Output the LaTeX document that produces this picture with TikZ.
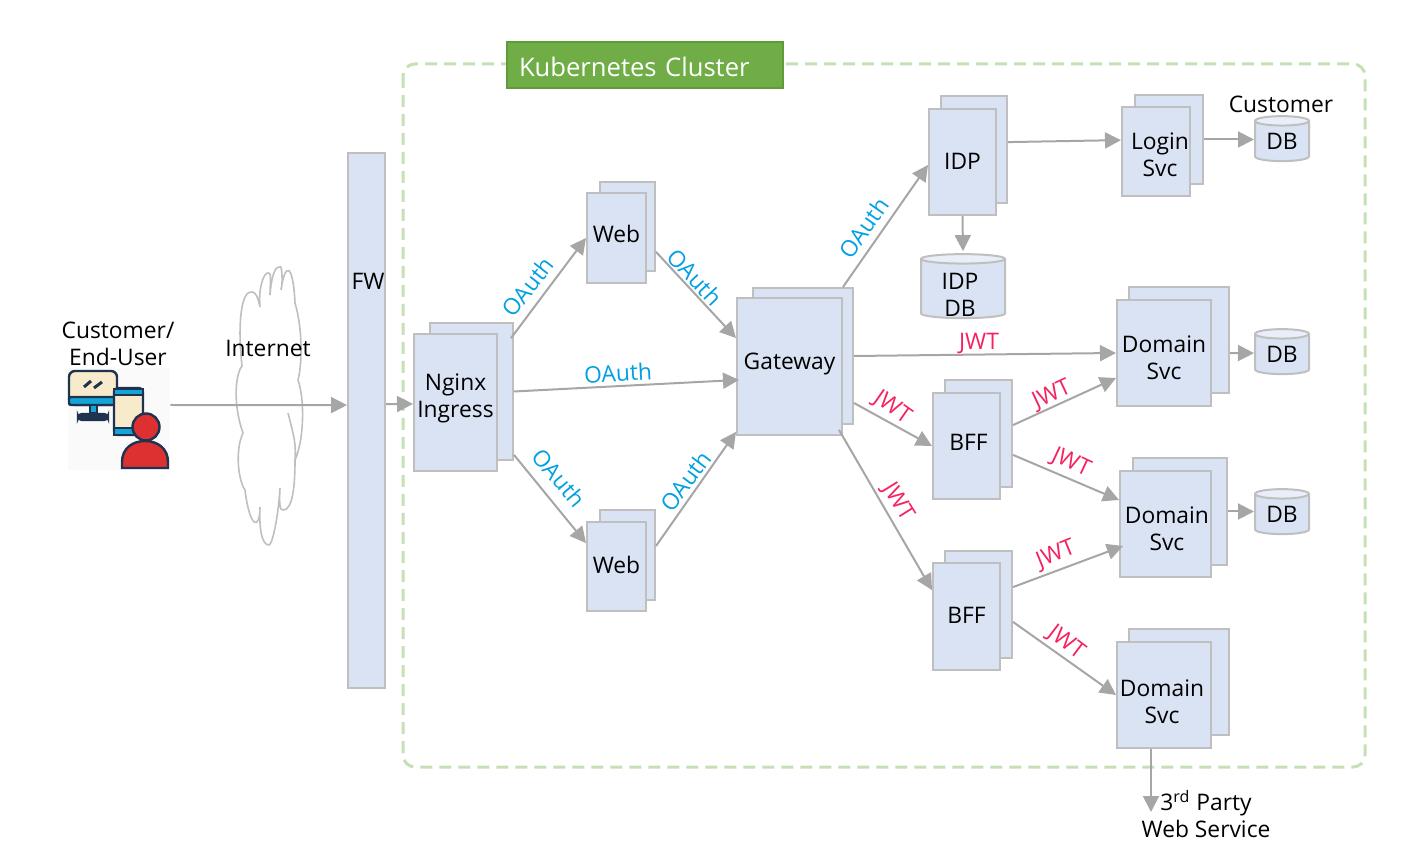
\documentclass[tikz,border=0pt]{standalone}
\usepackage{fontspec}
\setmainfont{Open Sans}
\usetikzlibrary{arrows.meta,shapes.geometric}
\definecolor{boxfill}{HTML}{DAE3F3}
\definecolor{boxline}{HTML}{BFBFBF}
\definecolor{arrowgray}{HTML}{A6A6A6}
\definecolor{clusterline}{HTML}{C5E0B4}
\definecolor{titlefill}{HTML}{70AD47}
\definecolor{titleline}{HTML}{5F9A3B}
\definecolor{oauthblue}{HTML}{00A0E2}
\definecolor{jwtred}{HTML}{F5225F}
\definecolor{icondark}{HTML}{1F3350}
\definecolor{iconcream}{HTML}{F8EBCB}
\definecolor{iconblue}{HTML}{12A5D6}
\definecolor{iconred}{HTML}{DD3030}
\tikzset{
    every node/.style={font=\fontsize{11.4}{13.5}\selectfont,align=center,inner sep=0pt},
    box/.style={fill=boxfill,draw=boxline,line width=1pt},
    dbcyl/.style={cylinder,shape border rotate=90,aspect=0.3,cylinder uses custom fill,
        cylinder body fill=boxfill,cylinder end fill=boxfill!60,draw=boxline,line width=1pt},
    oauth/.style={text=oauthblue},
    jwt/.style={text=jwtred},
}
\begin{document}
\begin{tikzpicture}[x=0.5pt,y=-0.5pt]
        \useasboundingbox (0,0) rectangle (1414,855);

        % cluster frame and title
        \draw [clusterline,line width=1.5pt,dash pattern=on 6pt off 3.5pt,rounded corners=6pt] (403,64) rectangle (1365,767);
        \node (title) [fill=titlefill,draw=titleline,line width=1pt,inner xsep=6pt,minimum height=23pt,
                       text width=126pt,text height=11.5pt,align=left,text=white,font=\fontsize{12.8}{15}\selectfont] at (645,65) {Kubernetes Cluster};

        % end user icon
        \node (user) [fill=gray!4,minimum width=51pt,minimum height=51pt] at (119,419) {};
        \begin{scope}[draw=icondark,line width=1.2pt]
            \draw [fill=iconcream,rounded corners=3pt] (69,371) rectangle (117,405);
            \draw [fill=iconblue,rounded corners=1pt] (69,397) rectangle (117,405);
            \draw [fill=iconblue] (90,405) rectangle (97,413);
            \draw [fill=icondark,rounded corners=2pt] (78,414) rectangle (108,420);
            \draw [line width=1.5pt] (84,387) -- (91,381) (94,388) -- (102,382);
            \draw [fill=iconcream,rounded corners=2pt] (114,388) rectangle (143,435);
            \draw [fill=iconblue] (114,389) rectangle (143,395);
            \draw [fill=iconblue] (114,428) rectangle (143,435);
            \draw [fill=iconred] (122,468) -- (122,462) .. controls (122,448) and (133,441) .. (145,441)
                                 .. controls (157,441) and (168,448) .. (168,462) -- (168,468) -- cycle;
            \draw [fill=iconred] (146,427) circle (13.5);
        \end{scope}
        \node (userlabel) at (118,344) {Customer/\\End-User};

        % internet cloud
        \draw [boxline,line width=0.8pt]
            (243,433) .. controls (233,405) and (235,375) .. (242,366)
            .. controls (237,320) and (242,290) .. (252,292)
            .. controls (256,292) and (258,298) .. (260,307)
            .. controls (258,285) and (265,272) .. (268,273)
            .. controls (272,272) and (270,285) .. (270,295)
            .. controls (272,270) and (277,266) .. (280,267)
            .. controls (282,264) and (283,285) .. (281,290)
            .. controls (285,262) and (293,262) .. (295,303)
            .. controls (303,330) and (302,365) .. (298,380)
            .. controls (305,400) and (304,440) .. (295,460)
            (288,413) .. controls (295,440) and (296,445) .. (295,460)
            .. controls (295,490) and (292,510) .. (283,510)
            .. controls (280,510) and (279,505) .. (280,488)
            .. controls (278,520) and (272,545) .. (269,545)
            .. controls (262,545) and (259,530) .. (260,507)
            .. controls (260,530) and (250,530) .. (245,490)
            .. controls (238,480) and (235,450) .. (243,433);
        \node (internet) at (268,348) {Internet};

        % firewall
        \node (fw) [box,minimum width=18.5pt,minimum height=267.5pt] at (366.5,420.5) {};
        \node (fwlabel) at (368,281) {FW};

        % back sheets
        \begin{scope}
            \node (nginxb) [box,minimum width=41.5pt,minimum height=68.5pt] at (471.5,391.5) {};
            \node (web1b) [box,minimum width=27.5pt,minimum height=44.5pt] at (627.5,226.5) {};
            \node (web2b) [box,minimum width=27.5pt,minimum height=45pt] at (627.5,555) {};
            \node (gatewayb) [box,minimum width=50pt,minimum height=68pt] at (803,356) {};
            \node (idpb) [box,minimum width=33pt,minimum height=53.5pt] at (974,149.5) {};
            \node (loginb) [box,minimum width=34pt,minimum height=44.5pt] at (1169,139.5) {};
            \node (bff1b) [box,minimum width=33.5pt,minimum height=53.5pt] at (978.5,433.5) {};
            \node (bff2b) [box,minimum width=33.5pt,minimum height=53.5pt] at (978.5,604.5) {};
            \node (dom1b) [box,minimum width=50pt,minimum height=53pt] at (1179,340) {};
            \node (dom2b) [box,minimum width=47pt,minimum height=53.5pt] at (1180,511.5) {};
            \node (dom3b) [box,minimum width=50pt,minimum height=53pt] at (1179,682) {};
        \end{scope}

        % front sheets
        \begin{scope}
            \node (nginx) [box,minimum width=41.5pt,minimum height=68.5pt,label={[yshift=2.2pt]center:Nginx\\Ingress}] at (455.5,402.5) {};
            \node (web1) [box,minimum width=29.5pt,minimum height=45pt,label={[yshift=2pt]center:Web}] at (616.5,238) {};
            \node (web2) [box,minimum width=29.5pt,minimum height=44.5pt,label={[yshift=1pt]center:Web}] at (616.5,566.5) {};
            \node (gateway) [box,minimum width=52.5pt,minimum height=68.5pt,label={[yshift=1.2pt]center:Gateway}] at (789.5,366.5) {};
            \node (idp) [box,minimum width=33.5pt,minimum height=53pt,label={[yshift=0.5pt]center:IDP}] at (962.5,162) {};
            \node (login) [box,minimum width=34pt,minimum height=44.5pt,label={[xshift=2pt,yshift=-1.7pt]center:Login\\Svc}] at (1156,151.5) {};
            \node (bff1) [box,minimum width=33.5pt,minimum height=53pt,label={[xshift=1pt,yshift=2pt]center:BFF}] at (966.5,446) {};
            \node (bff2) [box,minimum width=33.5pt,minimum height=53.5pt,label={[yshift=0.5pt]center:BFF}] at (966.5,616.5) {};
            \node (dom1) [box,minimum width=47pt,minimum height=53pt,label={[yshift=-2.5pt]center:Domain\\Svc}] at (1164,353) {};
            \node (dom2) [box,minimum width=45.5pt,minimum height=53pt,label={[xshift=0.7pt,yshift=-2.5pt]center:Domain\\Svc}] at (1165.5,524) {};
            \node (dom3) [box,minimum width=47pt,minimum height=53pt,label={[xshift=-1pt,yshift=-3.5pt]center:Domain\\Svc}] at (1164,695) {};
        \end{scope}

        % databases
        \node (idpdb) [dbcyl,minimum width=42pt,minimum height=32pt,label={[xshift=-1.5pt,yshift=-3pt]center:IDP\\DB}] at (963,289) {\phantom{DB}};
        \node (custdb) [dbcyl,minimum width=27pt,minimum height=22.5pt] at (1282,141.5) {DB};
        \node (db1) [dbcyl,minimum width=27pt,minimum height=22.5pt] at (1282,354.5) {DB};
        \node (db2) [dbcyl,minimum width=27pt,minimum height=22.5pt] at (1282,514.5) {DB};
        \node (custlabel) at (1281,104) {Customer};

        % third party
        \coordinate (ext) at (1151,812);
        \node (third) at (1206,814) {3\textsuperscript{rd} Party\\Web Service};

        % connectors
        \begin{scope}[>={Triangle[length=8pt,width=8pt]},
                      every edge/.style={draw=arrowgray,line width=1pt}]
            \path [->] ([yshift=7pt]user.east) edge ([yshift=7.7pt]fw.west);
            \path [->] ([yshift=8.2pt]fw.east) edge ([yshift=-0.7pt]nginx.west);
            \path [->] ([xshift=-1.5pt,yshift=26.7pt]nginxb.east) edge (web1.west);
            \path [->] (nginxb.east) edge ([xshift=1.5pt,yshift=-6.7pt]gateway.west);
            \path [->] ([yshift=-31.7pt]nginxb.east) edge ([yshift=11.7pt]web2.west);
            \path [->] ([yshift=-12.7pt]web1b.east) edge ([yshift=14.2pt]gateway.west);
            \path [->] ([yshift=4.5pt]web2b.east) edge ([yshift=-32.7pt]gateway.west);
            \path [->] ([xshift=20pt]gatewayb.north) edge ([yshift=-1.5pt]idp.west);
            \path [->] (gatewayb.east) edge (dom1.west);
            \path [->] ([yshift=-23.5pt]gatewayb.east) edge (bff1.west);
            \path [->] ([xshift=-2pt,yshift=-31.7pt]gateway.east) edge ([yshift=13.2pt]bff2.west);
            \path [->] ([yshift=3.7pt]idpb.east) edge ([yshift=5.7pt]login.west);
            \path [->] (idp.south) edge ([yshift=1pt]idpdb.north);
            \path [->] (loginb.east) edge ([yshift=1pt]custdb.west);
            \path [->] ([yshift=-6.5pt]dom1b.east) edge ([yshift=0.7pt]db1.west);
            \path [->] ([yshift=0pt]dom2b.east) edge ([yshift=1.5pt]db2.west);
            \path [->] ([yshift=4.2pt]bff1b.east) edge ([yshift=-12.5pt]dom1.west);
            \path [->] ([yshift=-10.7pt]bff1b.east) edge ([yshift=12pt]dom2.west);
            \path [->] ([yshift=8.7pt]bff2b.east) edge ([xshift=2pt,yshift=-11pt]dom2.west);
            \path [->] ([yshift=-8.7pt]bff2b.east) edge (dom3.west);
            \path [->] ([xshift=-6.5pt]dom3.south) edge (ext);
        \end{scope}

        % link labels
        \node (oa1) [oauth,rotate=52] at (528,287) {OAuth};
        \node (oa2) [oauth,rotate=-47] at (695,277) {OAuth};
        \node (oa3) [oauth,rotate=3] at (618,373) {OAuth};
        \node (oa4) [oauth,rotate=-50] at (559,478) {OAuth};
        \node (oa5) [oauth,rotate=53] at (686,481) {OAuth};
        \node (oa6) [oauth,rotate=55] at (864,228) {OAuth};
        \node (jw1) [jwt] at (979,344) {JWT};
        \node (jw2) [jwt,rotate=-35] at (892,408) {JWT};
        \node (jw3) [jwt,rotate=-58] at (898,502) {JWT};
        \node (jw4) [jwt,rotate=25] at (1052,395) {JWT};
        \node (jw5) [jwt,rotate=-25] at (1071,463) {JWT};
        \node (jw6) [jwt,rotate=22] at (1056,555) {JWT};
        \node (jw7) [jwt,rotate=-37] at (1066,643) {JWT};
\end{tikzpicture}
\end{document}
